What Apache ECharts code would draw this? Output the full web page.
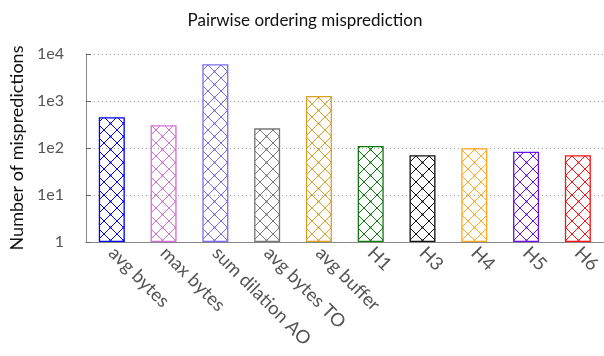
<!DOCTYPE html>
<html>
<head>
<meta charset="utf-8">
<script src="https://cdn.jsdelivr.net/npm/echarts@6/dist/echarts.min.js"></script>
<style>html,body{margin:0;padding:0;background:#fff}#c{width:604px;height:356px}</style>
</head>
<body>
<div id="c"></div>
<script>
var categories = ['avg bytes', 'max bytes', 'sum dilation AO', 'avg bytes TO', 'avg buffer', 'H1', 'H3', 'H4', 'H5', 'H6'];
var mispredictions = [450, 305, 6040, 262, 1280, 110, 70, 99, 83, 70];
var yTickLabels = ['1', '1e1', '1e2', '1e3', '1e4'];

var barColors = ['#0000ff', '#d46ed4', '#7a6cf0', '#777777', '#d9a024', '#107a10', '#111111', '#ffa820', '#6a10f0', '#ff1010'];

function makePattern(color) {
  var s = 13;
  var cv = document.createElement('canvas');
  cv.width = s; cv.height = s;
  var ctx = cv.getContext('2d');
  ctx.strokeStyle = color;
  ctx.lineWidth = 1;
  ctx.beginPath();
  ctx.moveTo(0, 0); ctx.lineTo(s, s);
  ctx.moveTo(s, 0); ctx.lineTo(0, s);
  ctx.stroke();
  ctx.fillStyle = color;
  ctx.fillRect(5.5, 5.5, 2, 2);
  return cv;
}

var font = 'Lato, "Open Sans", sans-serif';
var chart = echarts.init(document.getElementById('c'), null, {renderer: 'canvas'});
chart.setOption({
  animation: false,
  title: {
    text: 'Pairwise ordering misprediction',
    left: 300, textAlign: 'center', top: 7,
    textStyle: {fontFamily: font, fontSize: 17, fontWeight: 'normal', color: '#111'}
  },
  grid: {left: 85, right: -4, top: 54, bottom: 114, containLabel: false},
  xAxis: {
    type: 'category',
    data: categories,
    boundaryGap: true,
    axisLine: {lineStyle: {color: '#888', width: 1}},
    axisTick: {show: false},
    axisLabel: {rotate: -45, margin: 8, fontFamily: font, fontSize: 18.5, color: '#555', interval: 0}
  },
  yAxis: {
    type: 'log',
    logBase: 10,
    min: 1, max: 10000,
    name: 'Number of mispredictions',
    nameLocation: 'middle',
    nameGap: 57,
    nameRotate: 90,
    nameTextStyle: {fontFamily: font, fontSize: 18, color: '#111'},
    axisLine: {show: true, lineStyle: {color: '#888', width: 1}},
    axisTick: {show: true, inside: true, length: 5, lineStyle: {color: '#666'}},
    splitLine: {show: true, lineStyle: {color: '#999', type: [1, 3], width: 1}},
    axisLabel: {
      margin: 22, fontFamily: font, fontSize: 16, color: '#555',
      formatter: function (v) {
        var i = Math.round(Math.log10(v));
        return yTickLabels[i] || '';
      }
    }
  },
  series: [{
    type: 'bar',
    barWidth: 26,
    data: mispredictions.map(function (v, i) {
      return {
        value: v,
        itemStyle: {
          color: {image: makePattern(barColors[i]), repeat: 'repeat'},
          borderColor: barColors[i],
          borderWidth: 1.3
        }
      };
    })
  }]
});
</script>
</body>
</html>
